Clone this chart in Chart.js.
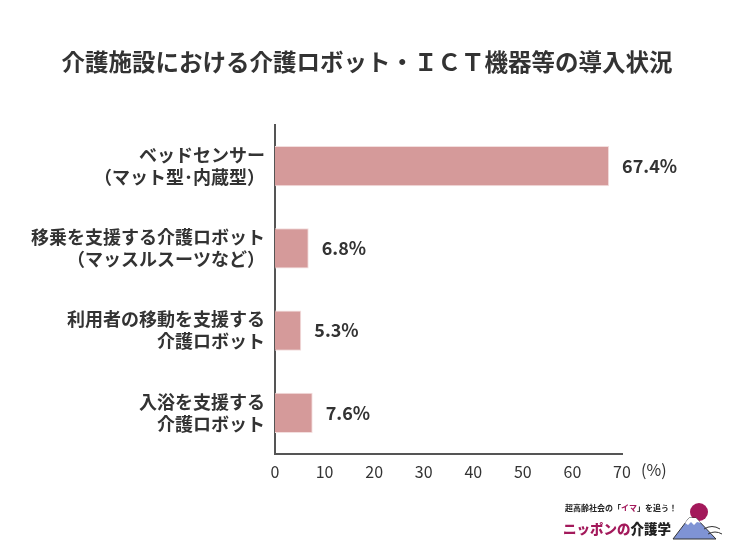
<!DOCTYPE html>
<html>
<head>
<meta charset="utf-8">
<script src="https://cdn.jsdelivr.net/npm/chart.js@4"></script>
<style>
    html, body { margin: 0; padding: 0; background: #fff; }
    #wrap { width: 734px; height: 554px; position: relative; }
</style>
</head>
<body>
<div id="wrap"><canvas id="chart" width="734" height="554"></canvas></div>
<script>
// Data
const categories = [
    ["ベッドセンサー", "（マット型･内蔵型）"],
    ["移乗を支援する介護ロボット", "（マッスルスーツなど）"],
    ["利用者の移動を支援する", "介護ロボット"],
    ["入浴を支援する", "介護ロボット"]
];
const rates = [67.4, 6.8, 5.3, 7.6];
const xTicks = [0, 10, 20, 30, 40, 50, 60, 70];

const FONT = "'Noto Sans CJK JP', 'Noto Sans', sans-serif";
const TEXT = "#333333";

// Title, value labels, unit and logo
const decorations = {
    id: "decorations",
    afterDatasetsDraw(chart) {
        const ctx = chart.ctx;
        ctx.save();

        // title
        ctx.fillStyle = TEXT;
        ctx.font = "bold 23.5px " + FONT;
        ctx.textAlign = "center";
        ctx.textBaseline = "middle";
        ctx.fillText("介護施設における介護ロボット・ＩＣＴ機器等の導入状況", 367, 62);

        // value labels
        const meta = chart.getDatasetMeta(0);
        ctx.font = "bold 18px " + FONT;
        ctx.textAlign = "left";
        meta.data.forEach((bar, i) => {
            ctx.fillText(rates[i].toFixed(1) + "%", bar.x + 13, bar.y);
        });

        // unit
        ctx.font = "16px " + FONT;
        ctx.fillText("(%)", 641, 470);

        // logo text
        ctx.font = "bold 8px " + FONT;
        ctx.fillStyle = "#222";
        ctx.fillText("超高齢社会の「", 565, 508);
        let w = ctx.measureText("超高齢社会の「").width;
        ctx.fillStyle = "#a3195b";
        ctx.fillText("イマ", 565 + w, 508);
        w += ctx.measureText("イマ").width;
        ctx.fillStyle = "#222";
        ctx.fillText("」を追う！", 565 + w, 508);

        ctx.font = "900 13.5px " + FONT;
        ctx.fillStyle = "#a3195b";
        ctx.fillText("ニッポンの", 563, 529);
        w = ctx.measureText("ニッポンの").width;
        ctx.fillStyle = "#222";
        ctx.fillText("介護学", 563 + w, 529);

        // sun
        ctx.fillStyle = "#a3195b";
        ctx.beginPath();
        ctx.arc(699, 512, 9, 0, Math.PI * 2);
        ctx.fill();

        // mountain
        ctx.fillStyle = "#7f93d4";
        ctx.strokeStyle = "#333";
        ctx.lineWidth = 1;
        ctx.beginPath();
        ctx.moveTo(673, 539);
        ctx.lineTo(689, 518);
        ctx.lineTo(696, 518);
        ctx.lineTo(716, 539);
        ctx.closePath();
        ctx.fill();
        ctx.stroke();
        // snow cap
        ctx.fillStyle = "#fff";
        ctx.beginPath();
        ctx.moveTo(685, 523);
        ctx.lineTo(689, 518);
        ctx.lineTo(696, 518);
        ctx.lineTo(701, 523);
        ctx.lineTo(697, 522);
        ctx.lineTo(694, 525);
        ctx.lineTo(691, 522);
        ctx.lineTo(688, 525);
        ctx.closePath();
        ctx.fill();
        // waves
        ctx.strokeStyle = "#333";
        ctx.beginPath();
        ctx.moveTo(704, 529);
        ctx.quadraticCurveTo(712, 524, 720, 529);
        ctx.moveTo(708, 534);
        ctx.quadraticCurveTo(715, 530, 722, 534);
        ctx.stroke();

        ctx.restore();
    }
};

const ctx = document.getElementById("chart").getContext("2d");
new Chart(ctx, {
    type: "bar",
    data: {
        labels: categories,
        datasets: [{
            data: rates,
            backgroundColor: "#d59a9a",
            borderColor: "#f3dede",
            borderWidth: 1,
            barPercentage: 0.98,
            categoryPercentage: 0.5
        }]
    },
    options: {
        indexAxis: "y",
        responsive: false,
        animation: false,
        devicePixelRatio: 1,
        layout: { padding: { left: 0, right: 112, top: 125, bottom: 0 } },
        plugins: {
            legend: { display: false },
            tooltip: { enabled: false }
        },
        scales: {
            x: {
                min: 0,
                max: 70,
                afterBuildTicks: (axis) => {
                    axis.ticks = xTicks.map(v => ({ value: v }));
                },
                afterFit: (axis) => { axis.height = 100; },
                grid: { display: false, drawTicks: false },
                border: { display: true, color: "#555", width: 2 },
                ticks: {
                    padding: 8,
                    color: TEXT,
                    font: { family: FONT, size: 16 }
                }
            },
            y: {
                afterFit: (axis) => { axis.width = 275; },
                grid: { display: false, drawTicks: false },
                border: { display: true, color: "#555", width: 2 },
                ticks: {
                    padding: 10,
                    color: TEXT,
                    font: { family: FONT, size: 18, weight: "bold", lineHeight: 1.22 }
                }
            }
        }
    },
    plugins: [decorations]
});
</script>
</body>
</html>
